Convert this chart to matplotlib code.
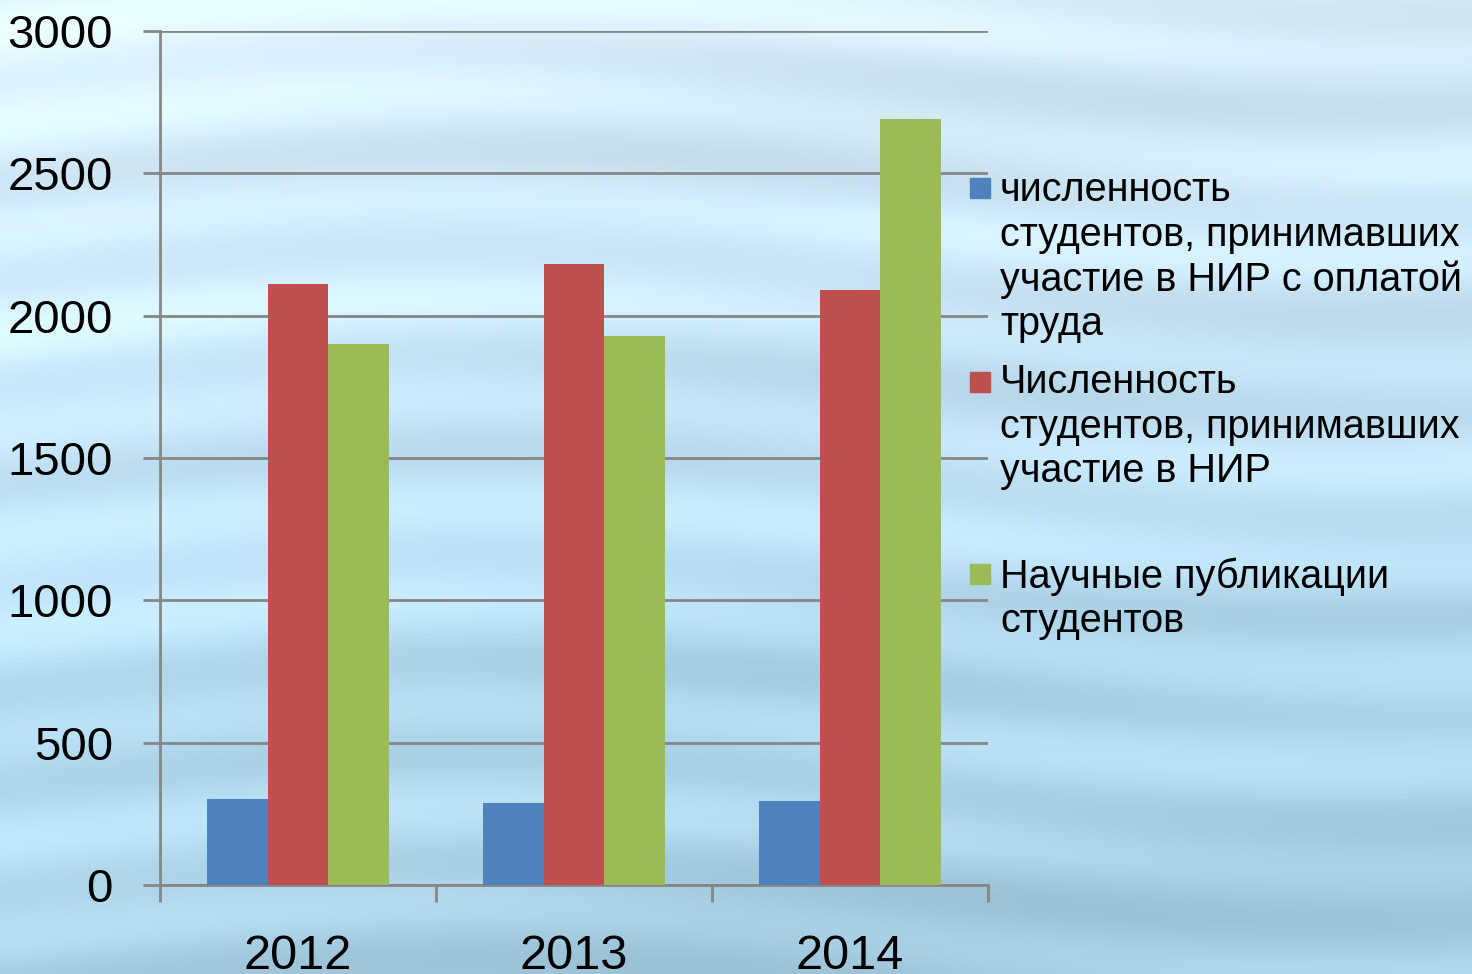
#!/usr/bin/env python3

import matplotlib

matplotlib.use("Agg")
import matplotlib.pyplot as plt
import numpy as np
from matplotlib.patches import Rectangle

years = ["2012", "2013", "2014"]
paid_students = [302, 288, 295]
research_students = [2110, 2180, 2090]
publications = [1900, 1930, 2690]

series_labels = [
    "численность\nстудентов, принимавших\nучастие в НИР с оплатой\nтруда",
    "Численность\nстудентов, принимавших\nучастие в НИР",
    "Научные публикации\nстудентов",
]
series_colors = ["#4F81BD", "#C0504D", "#9BBB59"]
y_ticks = [0, 500, 1000, 1500, 2000, 2500, 3000]

plt.rcParams["font.family"] = ["Liberation Sans", "DejaVu Sans"]
GRID = "#868686"


def draw_background(fig):
    bg = fig.add_axes([0, 0, 1, 1], zorder=-10)
    bg.set_axis_off()
    h, w = 200, 300
    yy = np.linspace(0, 1, h)[:, None]
    xx = np.linspace(0, 1, w)[None, :]
    top = np.array([218, 237, 249]) / 255
    mid = np.array([180, 220, 242]) / 255
    low = np.array([165, 204, 225]) / 255
    t = np.clip(yy * 1.4, 0, 1)
    base = top * (1 - t[..., None]) + mid * t[..., None]
    u = np.clip((yy - 0.6) / 0.4, 0, 1)
    base = base * (1 - u[..., None]) + low * u[..., None]
    # lighter on the left side
    base = base + 0.04 * np.clip(1 - xx * 2, 0, 1)[..., None]
    streak = 0.03 * np.sin(yy * 60 + 2 * np.sin(xx * 5)) + 0.02 * np.sin(yy * 23 + xx * 3)
    img = np.clip(base + streak[..., None] * np.ones((1, 1, 3)), 0, 1)
    bg.imshow(img, aspect="auto", extent=[0, 1, 0, 1], origin="upper")


def draw_plot():
    fig = plt.figure(figsize=(14.72, 9.74), dpi=100)
    draw_background(fig)

    ax = fig.add_axes([160 / 1472, 1 - 885 / 974, 828 / 1472, 854 / 974])
    ax.patch.set_alpha(0)

    x = np.arange(len(years))
    width = 0.221
    for i, vals in enumerate([paid_students, research_students, publications]):
        ax.bar(x + (i - 1) * width, vals, width, color=series_colors[i], zorder=3,
               edgecolor="none")

    ax.set_xlim(-0.5, 2.5)
    ax.set_ylim(0, 3000)
    ax.set_yticks(y_ticks)
    ax.set_yticklabels([str(v) for v in y_ticks])
    ax.yaxis.grid(True, color=GRID, linewidth=2, zorder=0)
    ax.tick_params(axis="y", length=12, width=2, color=GRID, labelsize=34, pad=22)

    ax.set_xticks([-0.5, 0.5, 1.5, 2.5])
    ax.set_xticklabels([])
    ax.set_xticks(x, minor=True)
    ax.set_xticklabels(years, minor=True)
    ax.tick_params(axis="x", which="major", length=12, width=2, color=GRID)
    ax.tick_params(axis="x", which="minor", length=0, labelsize=35, pad=35)

    for side in ["top", "right"]:
        ax.spines[side].set_visible(False)
    for side in ["left", "bottom"]:
        ax.spines[side].set_color(GRID)
        ax.spines[side].set_linewidth(2)

    # legend drawn by hand to match spacing
    last_baselines = [335, 482, 632]
    square_tops = [178, 372, 564]
    for label, color, base, sq in zip(series_labels, series_colors, last_baselines, square_tops):
        fig.patches.append(Rectangle((970 / 1472, 1 - (sq + 20) / 974), 20 / 1472, 20 / 974,
                                     transform=fig.transFigure, color=color))
        fig.text(1000 / 1472, 1 - base / 974, label, fontsize=28.5, va="baseline",
                 ha="left", linespacing=1.21)

    fig.savefig("out.png", dpi=100)


def main():
    draw_plot()


if __name__ == "__main__":
    main()
